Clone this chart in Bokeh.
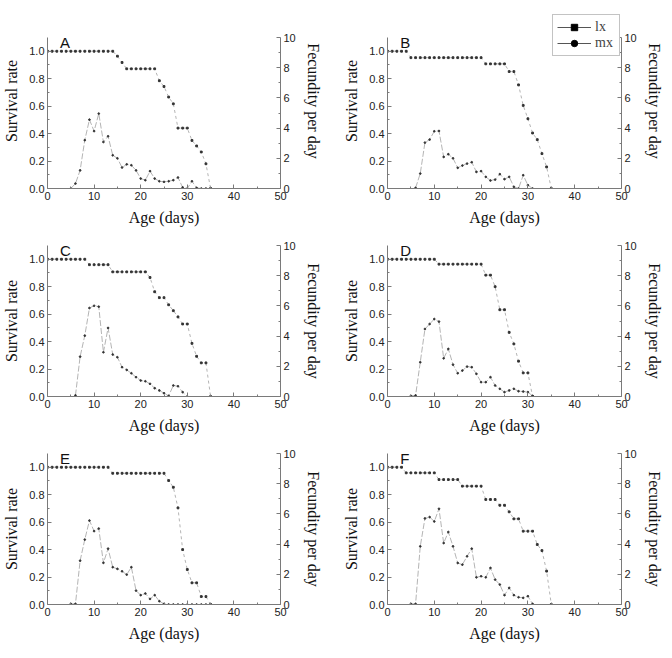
from bokeh.plotting import figure
from bokeh.layouts import column, row
from bokeh.models import (Range1d, LinearAxis, FixedTicker, PrintfTickFormatter,
                          Legend, LegendItem, ColumnDataSource)
from bokeh.core.properties import value
from bokeh.embed import file_html
from bokeh.resources import INLINE

# ---------------- data ----------------
panels = ["A", "B", "C", "D", "E", "F"]

lx_start = {"A": 0, "B": 0, "C": 0, "D": 0, "E": 0, "F": 0}
lx_A = [1.0]*15 + [0.964, 0.918] + [0.872]*7 + [0.785, 0.743, 0.666, 0.617] + [0.44]*3 + [0.35, 0.31, 0.266, 0.18, 0.0]
lx_B = [1.0]*5 + [0.953]*16 + [0.908]*5 + [0.852, 0.852, 0.755, 0.605, 0.508, 0.404, 0.356, 0.254, 0.157, 0.0]
lx_C = [1.0]*9 + [0.96]*5 + [0.908]*8 + [0.867, 0.763, 0.72, 0.72, 0.668, 0.625, 0.58, 0.528, 0.528, 0.387, 0.293, 0.245, 0.245, 0.0]
lx_D = [1.0]*11 + [0.964]*10 + [0.884, 0.884, 0.8, 0.632, 0.632, 0.467, 0.383, 0.257, 0.172, 0.172, 0.0]
lx_E = [1.0]*14 + [0.956]*12 + [0.903, 0.854, 0.704, 0.4, 0.255, 0.158, 0.158, 0.058, 0.058, 0.0]
lx_F = [1.0]*4 + [0.959]*7 + [0.91]*5 + [0.862]*5 + [0.765]*3 + [0.723, 0.723, 0.675, 0.624, 0.624, 0.534, 0.534, 0.534, 0.437, 0.393, 0.243, 0.0]

mx_start = {"A": 5, "B": 6, "C": 6, "D": 5, "E": 5, "F": 5}
mx_A = [0, 0.33, 1.2, 3.2, 4.56, 3.8, 4.96, 3.08, 3.46, 2.2, 2.0, 1.39, 1.6, 1.54, 1.2, 0.66, 0.55,
        1.15, 0.66, 0.48, 0.44, 0.48, 0.55, 0.73, 0.07, 0, 0.48, 0.04, 0, 0, 0]
mx_B = [0.04, 0.99, 3.04, 3.24, 3.79, 3.81, 2.09, 2.27, 2.0, 1.37, 1.52, 1.65, 1.74, 1.1, 1.15, 0.77,
        0.53, 0.59, 0.95, 0.62, 0.77, 0.11, 0, 0.88, 0.22, 0]
mx_C = [0.07, 2.64, 4.03, 5.86, 6.01, 5.95, 2.93, 4.54, 2.78, 2.6, 1.94, 1.76, 1.54, 1.28, 1.06, 1.01,
        0.84, 0.55, 0.4, 0.22, 0.04, 0.73, 0.68, 0.29, 0]
mx_D = [0.04, 0.07, 2.27, 4.47, 4.8, 5.13, 4.96, 2.53, 3.15, 2.11, 1.54, 1.72, 1.98, 1.94, 1.5, 0.95,
        0.95, 1.28, 0.73, 0.51, 0.29, 0.4, 0.51, 0.35, 0.33, 0.29, 0.04]
mx_E = [0.04, 0.04, 2.9, 4.3, 5.56, 4.86, 5.03, 2.76, 3.7, 2.47, 2.36, 2.2, 1.98, 2.47, 0.92, 0.62,
        0.73, 0.37, 0.62, 0.22, 0.04, 0, 0, 0, 0, 0, 0, 0, 0, 0, 0]
mx_F = [0.04, 0.04, 3.85, 5.7, 5.79, 5.5, 6.34, 4.07, 4.8, 3.85, 2.75, 2.64, 3.19, 3.7, 1.8, 1.87,
        1.8, 2.42, 1.65, 1.32, 0.62, 1.1, 0.62, 0.48, 0.44, 0.55, 0.04]

lx_data = {"A": lx_A, "B": lx_B, "C": lx_C, "D": lx_D, "E": lx_E, "F": lx_F}
mx_data = {"A": mx_A, "B": mx_B, "C": mx_C, "D": mx_D, "E": mx_E, "F": mx_F}

legend_labels = ["lx", "mx"]

x_ticks = [0, 10, 20, 30, 40, 50]
x_minor = [5, 15, 25, 35, 45]
sr_ticks = [0.0, 0.2, 0.4, 0.6, 0.8, 1.0]
sr_minor = [0.1, 0.3, 0.5, 0.7, 0.9]
fec_ticks = [0, 2, 4, 6, 8, 10]
fec_minor = [1, 3, 5, 7, 9]
SR_MAX = 1.1
FEC_MAX = 10

AXIS_C = "#7a7a7a"
LINE_C = "#ababab"
MARK_C = "#333333"
SERIF = "Liberation Serif"
SANS = "Liberation Sans"


def style_axis(ax):
    ax.axis_line_color = AXIS_C
    ax.major_tick_line_color = AXIS_C
    ax.minor_tick_line_color = AXIS_C
    ax.major_tick_in = 4
    ax.major_tick_out = 0
    ax.minor_tick_in = 2
    ax.minor_tick_out = 0
    ax.major_label_text_font = SANS
    ax.major_label_text_font_size = "11px"
    ax.major_label_text_color = "#222222"
    ax.major_label_standoff = 3
    ax.axis_label_text_font = SERIF
    ax.axis_label_text_font_size = "16px"
    ax.axis_label_text_font_style = "normal"
    ax.axis_label_text_color = "#111111"
    ax.axis_label_standoff = 6


def make_panel(key, col, first_row, extra_top=0):
    # extra_top: pixels of frame added above the axes' top (room for the legend)
    top = (37 if first_row else 16) - extra_top
    left = 43 if col == 0 else 53
    right = 54 if col == 0 else 39
    fh = 151 + extra_top
    scale = fh / 151.0
    p = figure(frame_width=233 if col == 0 else 234, frame_height=fh, title=None,
               min_border_left=left, min_border_right=right,
               min_border_top=top, min_border_bottom=41,
               x_range=Range1d(0, 50), y_range=Range1d(0, SR_MAX * scale),
               output_backend="svg", toolbar_location=None, tools="")
    p.extra_y_ranges = {"fec": Range1d(0, FEC_MAX * scale)}
    p.outline_line_color = None
    p.xgrid.visible = False
    p.ygrid.visible = False

    p.xaxis.ticker = FixedTicker(ticks=x_ticks, minor_ticks=x_minor)
    p.xaxis.axis_label = "Age (days)"
    p.yaxis.ticker = FixedTicker(ticks=sr_ticks, minor_ticks=sr_minor)
    p.yaxis.formatter = PrintfTickFormatter(format="%.1f")
    p.yaxis.axis_label = "Survival rate"
    p.yaxis.bounds = (0, SR_MAX)
    rax = LinearAxis(y_range_name="fec", axis_label="Fecundity per day",
                     ticker=FixedTicker(ticks=fec_ticks, minor_ticks=fec_minor),
                     bounds=(0, FEC_MAX))
    p.add_layout(rax, "right")
    for ax in [p.xaxis[0], p.yaxis[0], rax]:
        style_axis(ax)

    lx = lx_data[key]
    lx_days = list(range(lx_start[key], lx_start[key] + len(lx)))
    mx = mx_data[key]
    mx_days = list(range(mx_start[key], mx_start[key] + len(mx)))

    src_lx = ColumnDataSource(dict(x=lx_days, y=lx))
    src_mx = ColumnDataSource(dict(x=mx_days, y=mx))

    p.line("x", "y", source=src_lx, line_color=LINE_C, line_width=0.9, line_dash="3 3")
    p.scatter("x", "y", source=src_lx, marker="square", size=1.8,
              fill_color=MARK_C, line_color=MARK_C)
    p.line("x", "y", source=src_mx, y_range_name="fec", line_color=LINE_C, line_width=0.9,
           line_dash="6 2")
    p.scatter("x", "y", source=src_mx, y_range_name="fec", marker="circle", size=1.7,
              fill_color=MARK_C, line_color=MARK_C)

    p.text(x=[2.7], y=[1.065], text=[key], text_font=value(SANS), text_font_size="15px",
           text_color="#111111", text_align="left", text_baseline="alphabetic")

    if key == "B":
        # legend-only renderers: one point far outside the visible ranges
        off = ColumnDataSource(dict(x=[-100], y=[-100]))
        l1 = p.line("x", "y", source=off, line_color="#555555", line_width=1)
        s1 = p.scatter("x", "y", source=off, marker="square", size=7,
                       fill_color="black", line_color="black")
        l2 = p.line("x", "y", source=off, line_color="#555555", line_width=1)
        s2 = p.scatter("x", "y", source=off, marker="circle", size=7,
                       fill_color="black", line_color="black")
        leg = Legend(items=[LegendItem(label=legend_labels[0], renderers=[l1, s1]),
                            LegendItem(label=legend_labels[1], renderers=[l2, s2])],
                     location=(165, 132))
        leg.label_text_font = SERIF
        leg.label_text_font_size = "14px"
        leg.glyph_width = 34
        leg.glyph_height = 16
        leg.label_height = 16
        leg.spacing = 0
        leg.padding = 4
        leg.margin = 0
        leg.label_standoff = 4
        leg.border_line_color = "#888888"
        leg.background_fill_alpha = 1.0
        p.add_layout(leg, "center")
    return p


rows = []
for i in range(3):
    et = 24 if i == 0 else 0
    a = make_panel(panels[2*i], 0, i == 0, extra_top=et)
    b = make_panel(panels[2*i+1], 1, i == 0, extra_top=et)
    rows.append(row(a, b))

layout = column(*rows)
open("out.html", "w").write(file_html(layout, INLINE))
